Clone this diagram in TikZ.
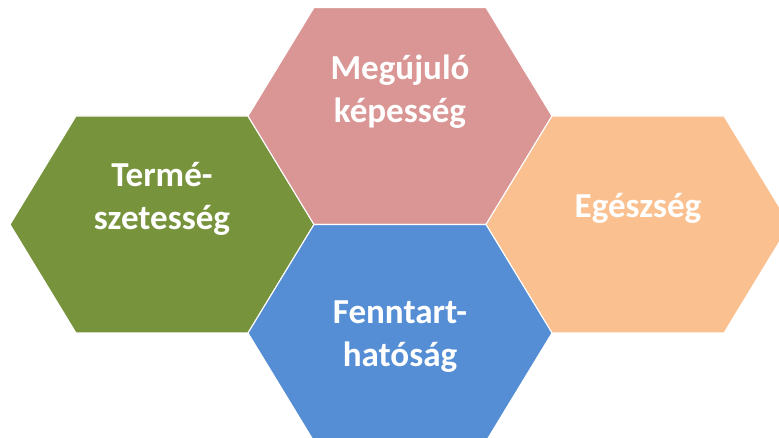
\documentclass[tikz,border=0pt]{standalone}
\usepackage{fontspec}
\setmainfont{Carlito}
\usetikzlibrary{positioning}
\definecolor{HexGreen}{HTML}{77933C}
\definecolor{HexRose}{HTML}{D99694}
\definecolor{HexBlue}{HTML}{558ED5}
\definecolor{HexPeach}{HTML}{FAC090}

\begin{document}
\begin{tikzpicture}[x=0.75pt, y=-0.75pt,
                      hexa/.style={draw=white, line width=0.8pt},
                      hextext/.style={text=white, align=center, anchor=base, inner sep=0pt,
                                      font=\fontsize{26.3}{32.25}\selectfont\bfseries}]
  \clip (0,0) rectangle (779,438);
  % four stretched hexagons, centres in pixels
  \foreach \n/\cx/\cy/\c in {green/162/224.5/HexGreen, rose/400/116/HexRose,
                             peach/638/224.5/HexPeach, blue/400/333/HexBlue} {
    \coordinate (\n) at (\cx,\cy);
    \filldraw[hexa, fill=\c] (\cx-152,\cy) -- ++(66,-108.5) -- ++(172,0) -- ++(66,108.5)
      -- ++(-66,108.5) -- ++(-172,0) -- cycle;
  }
  % base anchor sits on the last line
  \node[hextext] (greentext) at ([yshift=-4.1pt]green) {Termé-\\szetesség};
  \node[hextext] (rosetext) at ([yshift=-5.25pt]rose) {Megújuló\\képesség};
  \node[hextext] (peachtext) at ([yshift=5.6pt]peach) {Egészség};
  \node[hextext] (bluetext) at ([yshift=-25.5pt]blue) {Fenntart-\\hatóság};
\end{tikzpicture}
\end{document}
